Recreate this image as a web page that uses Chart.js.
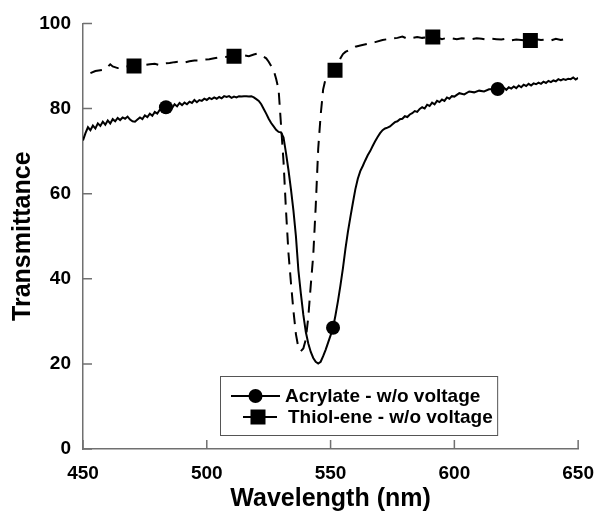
<!DOCTYPE html>
<html>
<head>
<meta charset="utf-8">
<script src="https://cdn.jsdelivr.net/npm/chart.js@4"></script>
<style>
  body { margin: 0; background: #fff; }
  canvas { display: block; }
</style>
</head>
<body>
<canvas id="transChart" width="607" height="512"></canvas>
<script>
// Acrylate - w/o voltage (solid line)
const acrylateWl = [450,451,452,453,454,455,456,457,458,459,460,461,462,463,464,465,466,467,468,469,470,471,472,473,474,475,476,477,478,479,480,481,482,483.5,485,486,487,488,489,490,491,492,493,494,495,496,497,498,499,500,501,502,503,504,505,506,507,508,509,510,511,512,513,514,515,516,517,518,519,520,521,522,523,524,525,526,527,528,529,530,531,532,533,534,535,536,537,538,539,540,541,542,543,544,545,546,547,548,549,550,551,552,553,554,555,556,557,558,559,560,561,562,563,564,565,566,567,568,569,570,571,572,573,574,575,576,577,578,579,580,581,582,583,584,585,586,587,588,589,590,591,592,593,594,595,596,597,598,599,600,602,604,606,608,610,612,614,616,617.5,619,620,621,622,623,624,625,626,627,628,629,630,631,632,633,634,635,636,637,638,639,640,641,642,643,644,645,646,647,648,649,650]
const acrylateT = [72.5,74.2,75.6,74.9,76.0,75.3,76.5,75.9,76.9,76.2,77.2,76.5,77.5,77.0,77.8,77.3,77.9,77.6,78.1,77.4,77.0,76.9,77.4,77.9,77.5,78.4,78.0,78.8,78.3,79.2,78.8,79.7,79.6,80.3,80.6,80.1,81.0,80.5,81.3,80.8,81.4,81.0,81.6,81.3,82.0,81.5,82.0,81.8,82.3,82.0,82.5,82.2,82.6,82.3,82.7,82.4,82.9,82.7,82.9,82.5,82.8,82.6,82.9,82.8,82.9,82.9,82.8,82.9,82.6,82.2,81.8,81.0,79.9,78.8,77.6,76.6,75.8,75.0,74.5,74.4,73.2,69.5,65.5,61.0,56.0,50.0,42.0,36.5,31.5,27.5,24.8,22.8,21.4,20.5,20.1,20.5,21.8,23.3,25.0,26.7,28.5,31.5,34.8,38.5,42.5,47.0,51.0,54.5,57.8,61.0,63.5,65.3,66.5,67.8,69.0,70.0,71.2,72.3,73.3,74.2,74.9,75.3,75.5,75.8,76.3,76.8,77.0,77.5,77.6,78.2,78.0,78.6,78.9,79.4,79.2,79.9,80.3,80.0,80.9,80.6,81.4,81.0,81.8,81.5,82.1,81.8,82.6,82.3,82.9,82.8,83.6,83.3,84.0,83.8,84.2,84.0,84.5,84.5,84.6,84.6,84.9,84.4,85.0,84.7,85.2,84.8,85.4,85.0,85.6,85.3,85.8,85.4,85.9,85.7,86.1,85.8,86.3,86.0,86.5,86.2,86.6,86.4,86.9,86.6,86.9,86.7,87.0,86.9,87.3,86.8,87.2]
const acrylateMarkWl = [483.5, 551, 617.5]
const acrylateMarkT = [80.3, 28.5, 84.6]

// Thiol-ene - w/o voltage (dashed line)
const thiolWl = [453,455,457,459,460,461,462,464,466,468,470.6,473,475,477,479,481,483,485,487,489,491,493,495,497,499,501,503,505,507,509,511,513,515,517,519,520.5,522,524,525,526,527,528,529,530,531,532,533,534,535,536,537,538,539,540,541,542,543,544,545,546,547,548,549,550,551.8,553,554,555,556,558,560,562,565,568,571,574,577,579,581,583,585,587,589,591.3,593,595,597,599,601,603,605,607,609,611,613,615,617,619,621,623,625,627,629,630.7,633,635,637,639,641,643,645,646]
const thiolT = [88.3,88.8,89.0,89.2,89.8,90.4,89.9,89.5,89.7,89.9,90.0,90.1,90.2,90.4,90.5,90.2,90.6,90.7,90.9,91.0,90.8,91.1,91.3,91.3,91.5,91.6,91.8,92.0,92.1,92.2,92.3,92.4,92.5,92.3,92.7,92.9,92.5,91.8,91.0,90.0,89.0,87.0,84.5,76.0,67.5,56.0,46.0,39.0,32.5,27.0,23.8,23.0,23.6,25.8,31.0,38.5,45.5,57.0,70.5,78.5,84.5,87.0,88.0,88.5,89.0,90.5,91.8,92.8,93.3,93.9,94.5,94.8,95.2,95.6,96.1,96.4,96.6,96.9,96.4,96.6,96.8,96.6,96.7,96.8,96.7,96.3,96.6,96.5,96.3,96.5,96.4,96.3,96.5,96.4,96.2,96.4,96.3,96.2,96.4,96.0,96.2,96.1,96.0,96.0,96.3,96.1,96.2,96.0,96.4,96.1,96.4,96.3]
const thiolMarkWl = [470.6, 511, 551.8, 591.3, 630.7]
const thiolMarkT = [90.0, 92.3, 89.0, 96.8, 96.0]

const xTicks = [450, 500, 550, 600, 650]
const yTicks = [0, 20, 40, 60, 80, 100]

const axisColor = '#707070'
const fontFamily = '"Liberation Sans", Arial, sans-serif'

const toPoints = (xs, ys) => xs.map((x, i) => ({x: x, y: ys[i]}))

// ticks pointing into the plot, like the original
const innerTicks = {
    id: 'innerTicks',
    afterDraw(chart) {
        const {ctx, chartArea: a, scales: {x, y}} = chart
        ctx.save()
        ctx.strokeStyle = axisColor
        ctx.lineWidth = 1.5
        ctx.beginPath()
        x.ticks.forEach(t => {
            const px = x.getPixelForValue(t.value)
            ctx.moveTo(px, a.bottom)
            ctx.lineTo(px, a.bottom - 9)
        })
        y.ticks.forEach(t => {
            const py = y.getPixelForValue(t.value)
            ctx.moveTo(a.left, py)
            ctx.lineTo(a.left + 9, py)
        })
        ctx.stroke()
        ctx.restore()
    }
}

// boxed legend inside the plot, line through marker
const boxLegend = {
    id: 'boxLegend',
    afterDraw(chart) {
        const {ctx, chartArea: a} = chart
        const left = a.left + 137, right = a.right - 81
        const top = a.bottom - 73, bottom = a.bottom - 14
        ctx.save()
        ctx.fillStyle = '#fff'
        ctx.fillRect(left, top, right - left, bottom - top)
        ctx.strokeStyle = '#555'
        ctx.lineWidth = 1
        ctx.strokeRect(left + 0.5, top + 0.5, right - left, bottom - top)

        ctx.font = 'bold 19px ' + fontFamily
        ctx.textBaseline = 'middle'
        ctx.fillStyle = '#000'
        ctx.strokeStyle = '#000'
        ctx.lineWidth = 2

        // row 1: circle
        let ry = top + 20
        ctx.beginPath()
        ctx.moveTo(left + 11, ry); ctx.lineTo(left + 60, ry)
        ctx.stroke()
        ctx.beginPath()
        ctx.arc(left + 35.5, ry, 7, 0, Math.PI * 2)
        ctx.fill()
        ctx.fillText(chart.data.datasets[0].label, left + 65, ry + 1)

        // row 2: square
        ry = top + 41
        ctx.beginPath()
        ctx.moveTo(left + 23, ry); ctx.lineTo(left + 57, ry)
        ctx.stroke()
        ctx.fillRect(left + 38 - 7.5, ry - 7.5, 15, 15)
        ctx.fillText(chart.data.datasets[1].label, left + 68, ry + 1)
        ctx.restore()
    }
}

const ctx = document.getElementById('transChart').getContext('2d')

new Chart(ctx, {
    type: 'scatter',
    data: {
        datasets: [{
            label: 'Acrylate - w/o voltage',
            data: toPoints(acrylateWl, acrylateT),
            showLine: true,
            borderColor: '#000',
            borderWidth: 2,
            pointRadius: 0,
            tension: 0
        }, {
            label: 'Thiol-ene - w/o voltage',
            data: toPoints(thiolWl, thiolT),
            showLine: true,
            borderColor: '#000',
            borderWidth: 2,
            borderDash: [12, 8],
            pointRadius: 0,
            tension: 0
        }, {
            label: 'acrylate markers',
            data: toPoints(acrylateMarkWl, acrylateMarkT),
            showLine: false,
            pointStyle: 'circle',
            pointRadius: 7,
            backgroundColor: '#000',
            borderColor: '#000',
            borderWidth: 0
        }, {
            label: 'thiol markers',
            data: toPoints(thiolMarkWl, thiolMarkT),
            showLine: false,
            pointStyle: 'rect',
            pointRadius: 10.6,
            backgroundColor: '#000',
            borderColor: '#000',
            borderWidth: 0
        }]
    },
    options: {
        responsive: false,
        animation: false,
        layout: {
            padding: {top: 21, right: 19, bottom: 0, left: 0}
        },
        plugins: {
            legend: {display: false},
            tooltip: {enabled: false}
        },
        scales: {
            x: {
                type: 'linear',
                min: xTicks[0],
                max: xTicks[xTicks.length - 1],
                afterBuildTicks: scale => { scale.ticks = xTicks.map(v => ({value: v})) },
                afterFit: scale => { scale.height = 63 },
                grid: {drawOnChartArea: false, drawTicks: false},
                border: {display: true, color: axisColor, width: 1.5},
                ticks: {
                    color: '#000',
                    padding: 13,
                    font: {family: fontFamily, size: 19, weight: 'bold'},
                    maxRotation: 0
                },
                title: {
                    display: true,
                    text: 'Wavelength (nm)',
                    color: '#000',
                    padding: {top: 0, bottom: 0},
                    font: {family: fontFamily, size: 25, weight: 'bold', lineHeight: 1.0}
                }
            },
            y: {
                min: yTicks[0],
                max: yTicks[yTicks.length - 1],
                afterBuildTicks: scale => { scale.ticks = yTicks.map(v => ({value: v})) },
                afterFit: scale => { scale.width = 83 },
                grid: {drawOnChartArea: false, drawTicks: false},
                border: {display: true, color: axisColor, width: 1.5},
                ticks: {
                    color: '#000',
                    padding: 12,
                    font: {family: fontFamily, size: 19, weight: 'bold'}
                },
                title: {
                    display: true,
                    text: 'Transmittance',
                    color: '#000',
                    padding: {top: 8, bottom: 0},
                    font: {family: fontFamily, size: 25, weight: 'bold', lineHeight: 1.2}
                }
            }
        }
    },
    plugins: [innerTicks, boxLegend]
})
</script>
</body>
</html>
